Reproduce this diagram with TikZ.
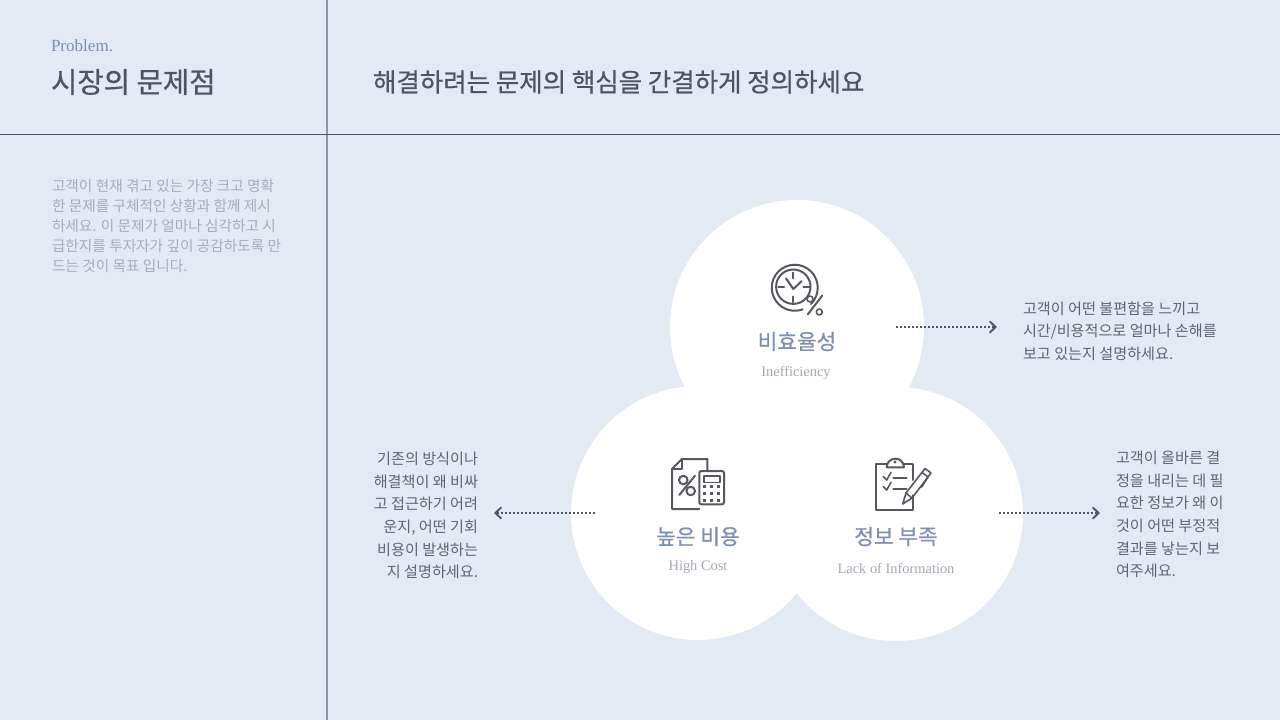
\documentclass[tikz,border=0pt]{standalone}
\usepackage{fontspec}
\usetikzlibrary{arrows.meta}
\setmainfont{Liberation Serif}
\newfontfamily\kr{Noto Sans CJK KR}
\newfontfamily\krb[FakeBold=0.6]{Noto Sans CJK KR}
\definecolor{bgc}{HTML}{E3EAF3}
\definecolor{ink}{HTML}{4D5463}
\definecolor{vln}{HTML}{8F96A6}
\definecolor{acc}{HTML}{7D8FB3}
\definecolor{mut}{HTML}{A6ADBA}
\definecolor{sub}{HTML}{A3A8B2}
\definecolor{icn}{HTML}{55585F}
\newcommand{\fsz}[2]{\fontsize{#1}{#2}\selectfont}
\tikzset{
  x=0.75pt,y=-0.75pt,
  blob/.style={circle,fill=white,draw=none,minimum size=190.5pt,inner sep=0pt},
  lab/.style={inner sep=0pt,outer sep=0pt},
  body/.style={lab,text=ink!90,font=\kr\fsz{11.35}{16.95}},
  head/.style={lab,text=acc,font=\krb\fsz{16}{18}},
  eng/.style={lab,text=sub,font=\fsz{10.8}{13}},
  dotarrow/.style={draw=ink,line width=1.4pt,dash pattern=on 1.5pt off 1.5pt,-{Straight Barb[length=4.5pt,width=8.5pt,line width=1.4pt]}},
  ico/.style={draw=icn,line width=1.5pt,line cap=round,line join=round},
  icothin/.style={draw=icn,line width=1.2pt,line cap=round,line join=round},
}
\begin{document}
\begin{tikzpicture}
\useasboundingbox (0,0) rectangle (1280,720);
\fill[bgc] (0,0) rectangle (1280,720);
\draw[vln,line width=1.5pt] (326.5,0) -- (326.5,720);
\draw[ink,line width=0.6pt] (0,134.5) -- (1280,134.5);

\node[lab,anchor=west,text=acc,font=\fsz{12.8}{15}] (tag) at (51,45.5) {Problem.};
\node[lab,anchor=west,text=ink,font=\krb\fsz{21.5}{24}] (ttl) at (51,82) {시장의 문제점};
\node[lab,anchor=west,text=ink,font=\krb\fsz{19.1}{22}] (sub) at (373,82) {해결하려는 문제의 핵심을 간결하게 정의하세요};
\node[lab,anchor=north west,align=left,text=mut,font=\kr\fsz{11}{15}] (desc) at (52,179) {고객이 현재 겪고 있는 가장 크고 명확\\한 문제를 구체적인 상황과 함께 제시\\하세요. 이 문제가 얼마나 심각하고 시\\급한지를 투자자가 깊이 공감하도록 만\\드는 것이 목표 입니다.};

\node[blob] (c1) at (797,327) {};
\node[blob] (c2) at (698,513) {};
\node[blob] (c3) at (896,514) {};

% clock icon
\draw[ico] (793.3,286.7) circle (17.2);
\draw[ico] (811,304) arc (45:-290:23) ;
\draw[ico] (793.3,272.7) -- (793.3,278.3) (793.3,296.7) -- (793.3,302.3) (778.3,286.7) -- (784,286.7) (803.3,286.7) -- (809.3,286.7);
\draw[ico] (786,278.3) -- (793.3,289) -- (801.7,281);
\draw[ico] (807.7,314.5) -- (822.3,295.5);
\draw[icothin] (810,299) circle (3) (819.3,312) circle (3);

% calculator icon
\draw[ico] (707.3,470) -- (707.3,459) -- (682,459) -- (672,469) -- (672,509) -- (699.3,509);
\draw[ico] (682,459) -- (682,469) -- (672,469);
\draw[ico,rounded corners=1.5pt] (699.3,471) rectangle (724,504.3);
\draw[icothin] (704,475.7) rectangle (720,482.3);
\foreach \px in {704.3,711.7,718.3}\foreach \py in {486.7,493.3,500.7}{\fill[icn] (\px-1.6,\py-1.6) rectangle (\px+1.6,\py+1.6);}
\draw[ico] (679.3,495) -- (695,475.7);
\draw[ico] (683.3,480) circle (4.3) (690.7,491) circle (4.3);

% clipboard icon
\draw[ico] (886.7,464.3) -- (876,464.3) -- (876,510) -- (913.3,510) -- (913.3,495);
\draw[ico] (904,464.3) -- (913.3,464.3) -- (913.3,480);
\draw[ico] (886.7,467.3) -- (904,467.3) arc (0:-180:8.65) -- cycle;
\fill[icn] (895,462) circle (1.7);
\draw[icothin] (883.3,476.7) -- (886.7,480) -- (891,472.3);
\draw[icothin] (883.3,486.7) -- (886.7,490) -- (891,482.3);
\draw[ico] (893.3,478.3) -- (906.7,478.3) (893.3,488.7) -- (906.7,488.7);
\draw[icothin] (902.7,504) -- (906,493) -- (925,468.5) -- (931,473) -- (912,498) -- cycle;
\draw[icothin] (906,493) -- (912,498) (922,472.5) -- (928,477) (928,477) -- (921.7,487);

\node[head] (h1) at (797,341.5) {비효율성};
\node[eng] (e1) at (796,372.5) {Inefficiency};
\node[head] (h2) at (698,536.5) {높은 비용};
\node[eng] (e2) at (698,567.5) {High Cost};
\node[head] (h3) at (896,536.5) {정보 부족};
\node[eng] (e3) at (896,568.5) {Lack of Information};

\coordinate (a1s) at (896,327);
\coordinate (a1e) at (997,327);
\coordinate (a2s) at (595,513);
\coordinate (a2e) at (494,513);
\coordinate (a3s) at (999,513);
\coordinate (a3e) at (1100,513);
\draw[dotarrow] (a1s) -- (a1e);
\draw[dotarrow] (a2s) -- (a2e);
\draw[dotarrow] (a3s) -- (a3e);

\node[body,anchor=west,align=left] (t1) at (1023,331) {고객이 어떤 불편함을 느끼고\\시간/비용적으로 얼마나 손해를\\보고 있는지 설명하세요.};
\node[body,anchor=east,align=right] (t2) at (478,515.5) {기존의 방식이나\\해결책이 왜 비싸\\고 접근하기 어려\\운지, 어떤 기회\\비용이 발생하는\\지 설명하세요.};
\node[body,anchor=west,align=left] (t3) at (1116,514.5) {고객이 올바른 결\\정을 내리는 데 필\\요한 정보가 왜 이\\것이 어떤 부정적\\결과를 낳는지 보\\여주세요.};
\end{tikzpicture}
\end{document}
